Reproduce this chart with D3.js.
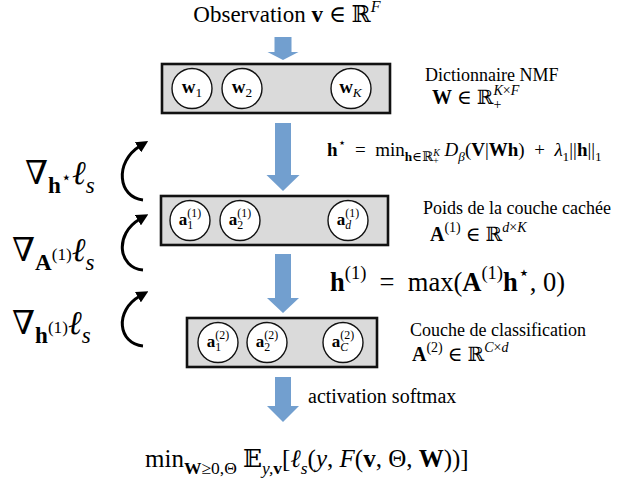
<!DOCTYPE html>
<html><head><meta charset="utf-8">
<script src="https://cdn.jsdelivr.net/npm/d3@7"></script>
<style>
html,body{margin:0;padding:0;background:#fff;}
svg text{white-space:pre;}
</style></head><body>
<svg id="c" width="638" height="479"></svg>
<script>
// ---------------- data (labels of the diagram) ----------------
const layerTitles = ["Dictionnaire NMF", "Poids de la couche cachée", "Couche de classification"];
const unitSymbols = ["w", "a", "a"];
const unitSupers  = ["", "(1)", "(2)"];
const unitSubs    = [["1", "2", "K"], ["1", "2", "d"], ["1", "2", "C"]];
// rich-text segments: [text, style(r|b|i), position, stackCount]
const EN = "\u2002";
const obsLabel = [["Observation ","r","0"],["v","b","0"],[" ∈ ","r","0"],["ℝ","r","0"],["F","i","^"]];
const layerEquations = [
  [["W","b","0"],[" ∈ ","r","0"],["ℝ","r","0"],["+","r","_"],["K","i","^",1],["×","r","^"],["F","i","^"]],
  [["A","b","0"],["(1)","r","^"],[" ∈ ","r","0"],["ℝ","r","0"],["d","i","^"],["×","r","^"],["K","i","^"]],
  [["A","b","0"],["(2)","r","^"],[" ∈ ","r","0"],["ℝ","r","0"],["C","i","^"],["×","r","^"],["d","i","^"]]
];
const stepLabels = [
  [["h","b","0"],["⋆","r","^"],[EN+"="+EN+"min","r","0"],["h","b","_"],["∈ℝ","r","_"],["+","r","__"],["K","i","_^",1],[" D","i","0"],["β","i","_"],["(","r","0"],["V","b","0"],["|","r","0"],["Wh","b","0"],[")"+EN+"+"+EN,"r","0"],["λ","i","0"],["1","r","_"],["||","r","0"],["h","b","0"],["||","r","0"],["1","r","_"]],
  [["h","b","0"],["(1)","r","^"],[EN+"="+EN+"max(","r","0"],["A","b","0"],["(1)","r","^"],["h","b","0"],["⋆","r","^"],[", 0)","r","0"]],
  [["activation softmax","r","0"]]
];
const objectiveLabel = [["min","r","0"],["W","b","_"],["≥0,Θ","r","_"],[" 𝔼","r","0"],["y,","i","_"],["v","b","_"],["[","r","0"],["ℓ","i","0"],["s","i","_"],["(","r","0"],["y","i","0"],[", ","r","0"],["F","i","0"],["(","r","0"],["v","b","0"],[", Θ, ","r","0"],["W","b","0"],["))]","r","0"]];
const gradientLabels = [
  [["∇","r","0"],["h","b","_"],["⋆","r","_^"],["ℓ","i","0"],["s","i","_"]],
  [["∇","r","0"],["A","b","_"],["(1)","r","_^"],["ℓ","i","0"],["s","i","_"]],
  [["∇","r","0"],["h","b","_"],["(1)","r","_^"],["ℓ","i","0"],["s","i","_"]]
];

// ---------------- layout ----------------
const FONT = "'Liberation Serif', Tinos, 'Times New Roman', 'DejaVu Serif', serif";
const layout = {
  arrowX: 283, arrowColor: "#729fcf",
  arrows: [{y0:37,y1:60,hh:8,sw:17,hw:31},{y0:123,y1:191,hh:16,sw:16,hw:33},{y0:254,y1:313,hh:15,sw:16,hw:32},{y0:377,y1:422,hh:16,sw:16,hw:32}],
  boxes: [{x0:162,x1:390,y0:64,y1:113},{x0:161,x1:388,y0:196,y1:245},{x0:187,x1:377,y0:318,y1:367}],
  unitX: [[192,242,351],[190,240,348],[218,267,343]],
  unitR: 20, unitSize: [19, 17, 17],
  titleSize: 18, eqSize: 20,
  titles: [{x:425,y:81},{x:423,y:214},{x:410,y:336}],
  eqs: [{x:432,y:104},{x:430,y:241},{x:412,y:361}],
  steps: [{x:327,y:156,s:19},{x:330,y:291,s:26.5},{x:308,y:403,s:20}],
  grads: [{x:25,y:184},{x:12,y:261},{x:12,y:334}],
  gradSize: 33,
  curls: [{x:143,y0:200,y1:139},{x:143,y0:270,y1:212},{x:143,y0:346,y1:289}]
};

const svg = d3.select("#c");
const POS = {"0":[0,1], "^":[-0.45,0.7], "_":[0.26,0.7], "_^":[-0.02,0.52], "__":[0.42,0.5]};

function rich(sel, x, y, size, segs, anchor) {
  const t = sel.append("text").attr("x", x).attr("y", y)
    .attr("font-family", FONT).attr("font-size", size).attr("fill", "#000");
  let prev = 0; const widths = [];
  segs.forEach((s, i) => {
    const [txt, st, pos, stack] = s; const p = POS[pos];
    const ts = t.append("tspan").text(txt)
      .attr("font-size", (size * p[1]).toFixed(2))
      .attr("dy", ((p[0] - prev) * size).toFixed(2));
    if (st === "b") ts.attr("font-weight", "bold");
    if (st === "i") ts.attr("font-style", "italic");
    prev = p[0];
    const w = ts.node().getComputedTextLength();
    if (stack) {
      let back = 0; for (let k = 1; k <= stack; k++) back += widths[i - k];
      ts.attr("dx", -back);
    }
    widths.push(w);
  });
  if (anchor === "middle") {
    const bb = t.node().getBBox();
    t.attr("x", x - bb.width / 2);
  }
  return t;
}

// block arrows
const ax = layout.arrowX;
svg.append("g").selectAll("path").data(layout.arrows).join("path")
  .attr("fill", layout.arrowColor)
  .attr("d", a => {
    const p = d3.path();
    p.moveTo(ax - a.sw/2, a.y0); p.lineTo(ax + a.sw/2, a.y0);
    p.lineTo(ax + a.sw/2, a.y1 - a.hh); p.lineTo(ax + a.hw/2, a.y1 - a.hh);
    p.lineTo(ax, a.y1); p.lineTo(ax - a.hw/2, a.y1 - a.hh);
    p.lineTo(ax - a.sw/2, a.y1 - a.hh); p.closePath();
    return p.toString();
  });

// layer boxes
svg.append("g").selectAll("rect").data(layout.boxes).join("rect")
  .attr("x", b => b.x0).attr("y", b => b.y0)
  .attr("width", b => b.x1 - b.x0).attr("height", b => b.y1 - b.y0)
  .attr("fill", "#dadada").attr("stroke", "#111").attr("stroke-width", 2.6);

// units
layout.boxes.forEach((b, li) => {
  const cy = (b.y0 + b.y1) / 2;
  const g = svg.append("g");
  unitSubs[li].forEach((sub, ui) => {
    const cx = layout.unitX[li][ui];
    g.append("circle").attr("cx", cx).attr("cy", cy).attr("r", layout.unitR)
      .attr("fill", "#fff").attr("stroke", "#111").attr("stroke-width", 1.4);
    const isVar = /[A-Za-z]/.test(sub);
    const segs = [[unitSymbols[li], "b", "0"], [sub, isVar ? "i" : "r", "_"]];
    if (unitSupers[li]) segs.push([unitSupers[li], "r", "^", 1]);
    rich(g, cx, cy + 4, layout.unitSize[li], segs, "middle");
  });
  rich(svg, layout.titles[li].x, layout.titles[li].y, layout.titleSize, [[layerTitles[li], "r", "0"]]);
  rich(svg, layout.eqs[li].x, layout.eqs[li].y, layout.eqSize, layerEquations[li]);
});

// step labels
stepLabels.forEach((s, i) => rich(svg, layout.steps[i].x, layout.steps[i].y, layout.steps[i].s, s));

// top / bottom
rich(svg, 287, 22, 23, obsLabel, "middle");
rich(svg, 145, 467, 25, objectiveLabel);

// gradients
gradientLabels.forEach((s, i) => rich(svg, layout.grads[i].x, layout.grads[i].y, layout.gradSize, s));

// curved back-prop arrows
const defs = svg.append("defs");
defs.append("marker").attr("id", "ah").attr("viewBox", "0 0 10 10").attr("refX", 2).attr("refY", 5)
  .attr("markerWidth", 4).attr("markerHeight", 4).attr("orient", "auto")
  .append("path").attr("d", "M0,0 L10,5 L0,10 z").attr("fill", "#000");
svg.append("g").selectAll("path").data(layout.curls).join("path")
  .attr("fill", "none").attr("stroke", "#000").attr("stroke-width", 3)
  .attr("marker-end", "url(#ah)")
  .attr("d", c => {
    const h = c.y0 - c.y1;
    const p = d3.path();
    p.moveTo(c.x, c.y0);
    p.bezierCurveTo(c.x - 25, c.y0 - h * 0.04, c.x - 29, c.y1 + h * 0.38, c.x - 3, c.y1 + 7);
    return p.toString();
  });
</script>
</body></html>
